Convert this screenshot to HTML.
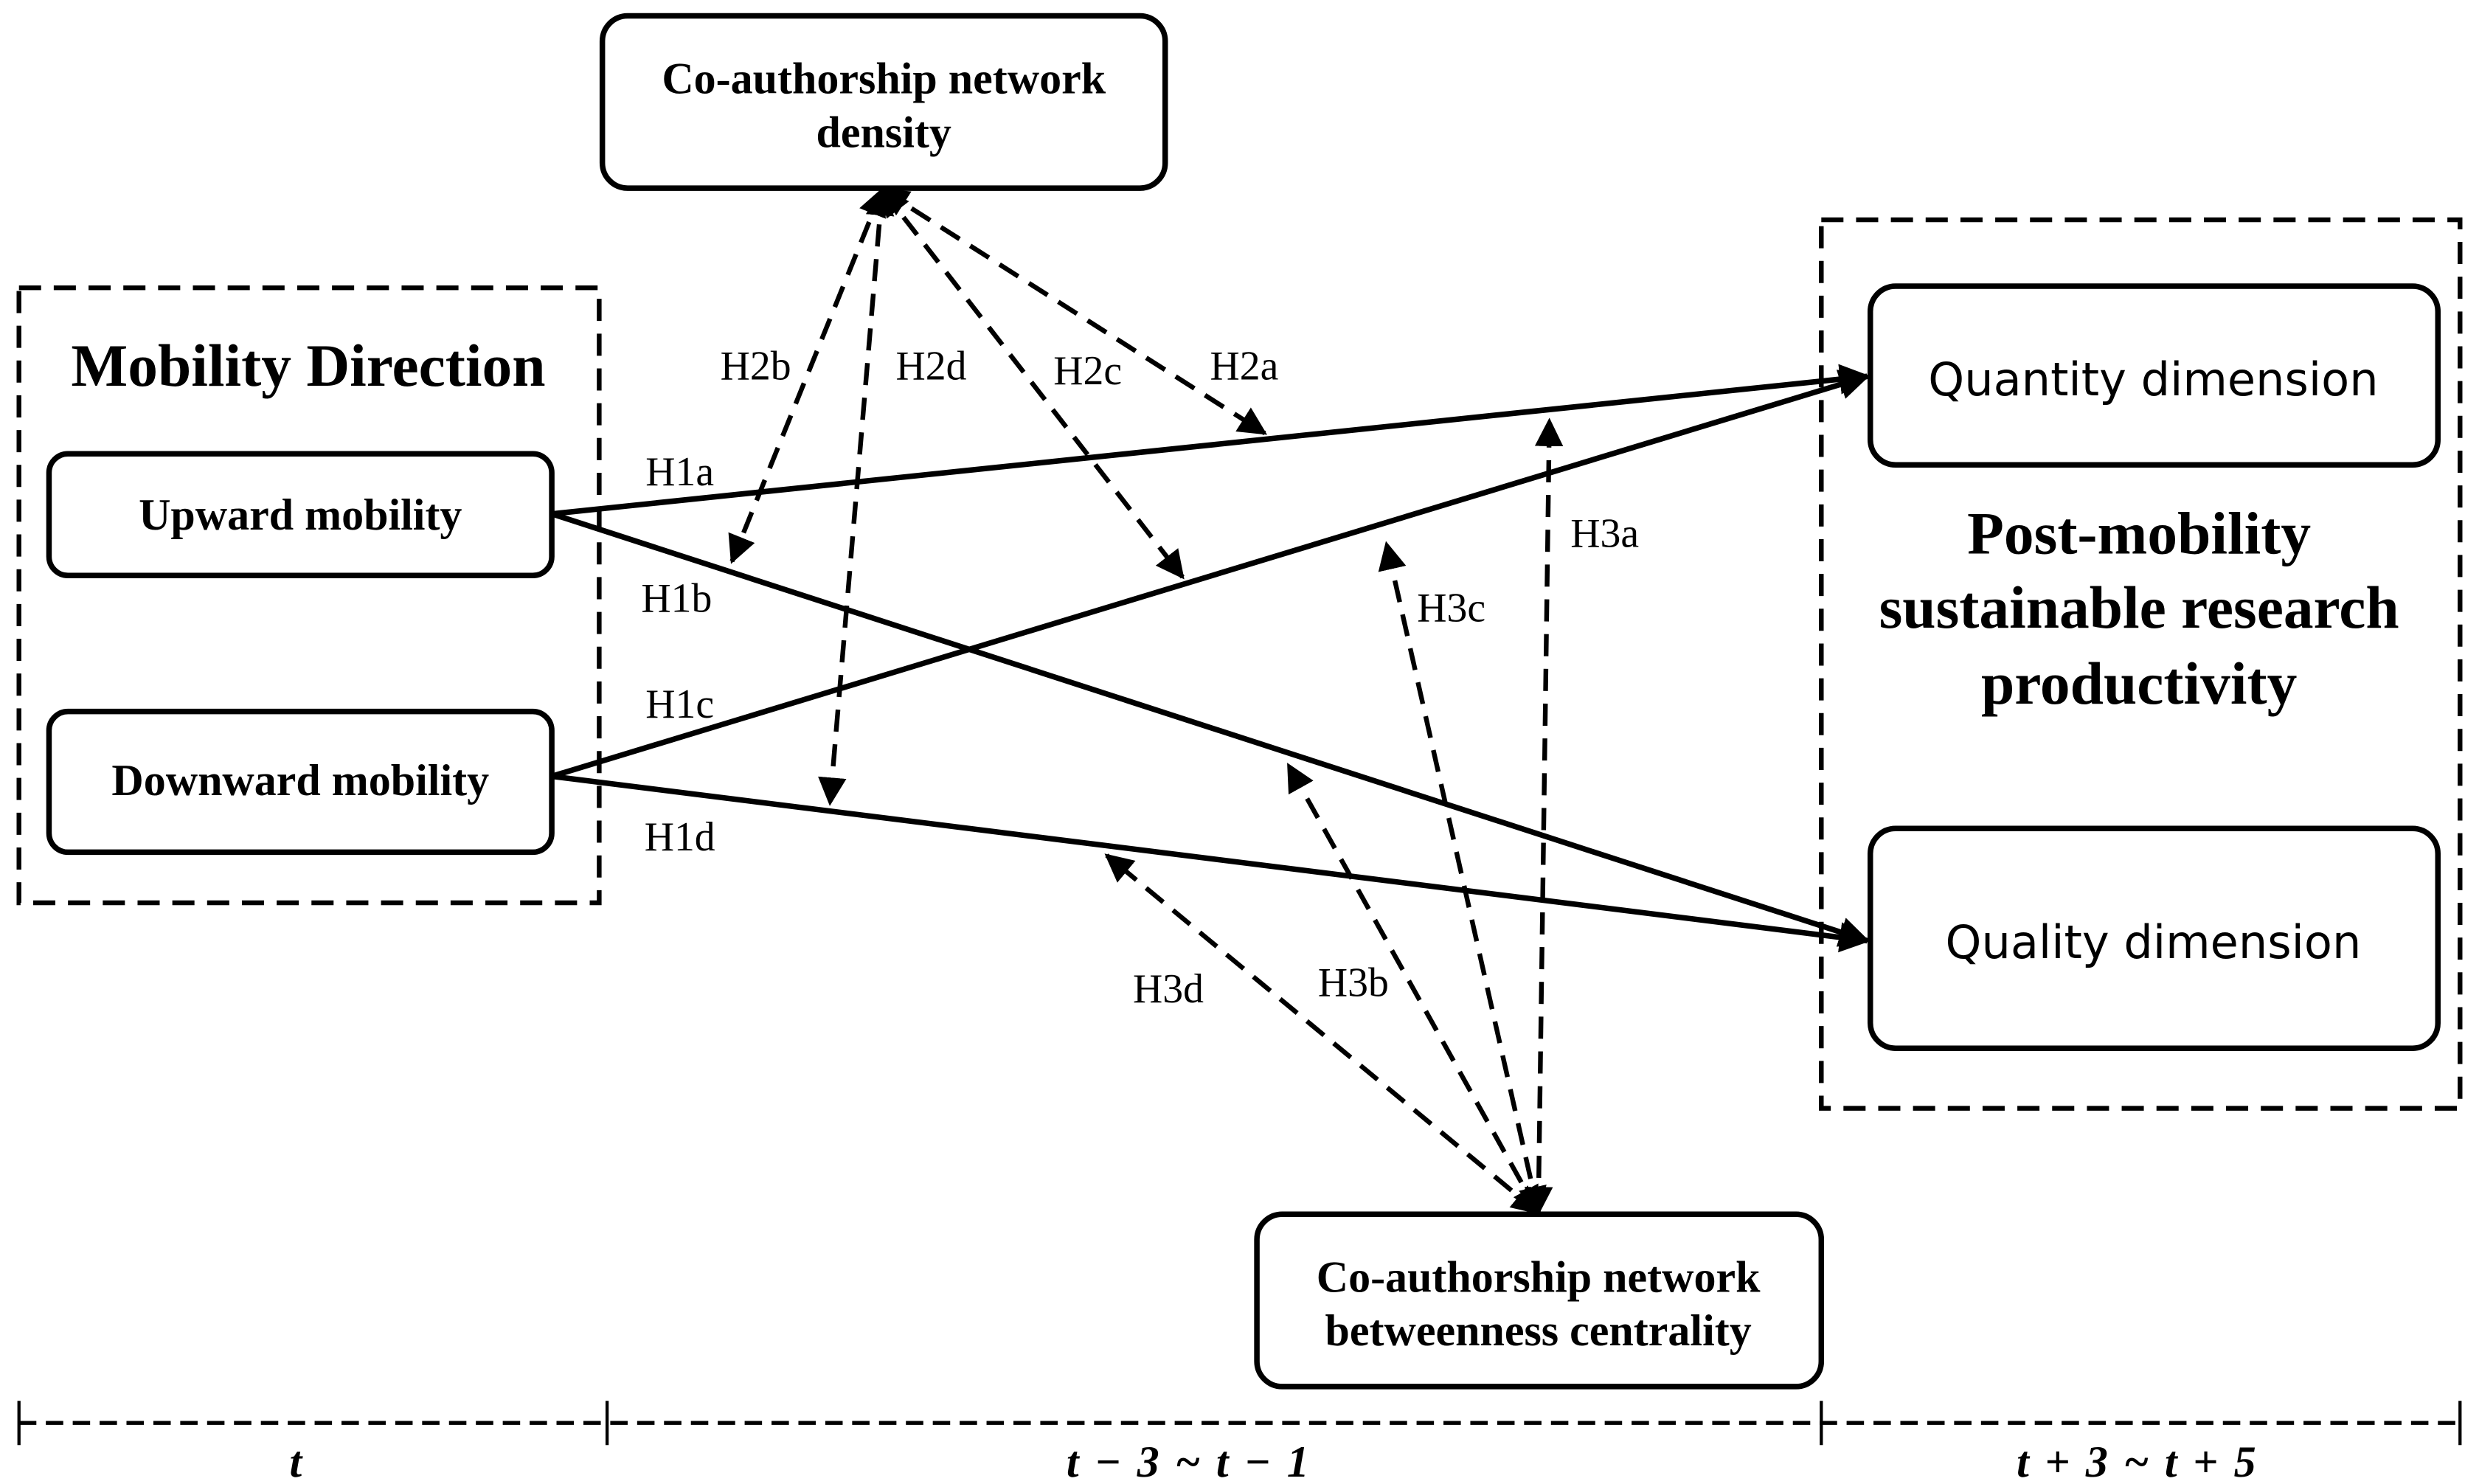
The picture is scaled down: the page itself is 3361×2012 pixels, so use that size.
<!DOCTYPE html>
<html><head><meta charset="utf-8"><style>
html,body{margin:0;padding:0;background:#fff;}
svg{display:block;}
.s{font-family:"Liberation Serif",serif;}
</style></head><body>
<svg width="3361" height="2012" viewBox="0 0 1568 938.6" xmlns="http://www.w3.org/2000/svg">
<defs>
<marker id="a" viewBox="0 0 10 10" refX="9" refY="5" markerWidth="6" markerHeight="6" orient="auto-start-reverse" markerUnits="strokeWidth"><path d="M0,0 L10,5 L0,10 z" fill="#000"/></marker>
<marker id="b" viewBox="0 0 10 10" refX="9" refY="5" markerWidth="5.5" markerHeight="5.5" orient="auto-start-reverse" markerUnits="strokeWidth"><path d="M0,0 L10,5 L0,10 z" fill="#000"/></marker>
</defs>
<g fill="none" stroke="#000" stroke-width="3.5">
<rect x="381" y="10" width="356" height="109" rx="16"/>
<rect x="12" y="182" width="367" height="389" stroke-dasharray="14,8" stroke-width="3"/>
<rect x="31" y="287" width="318" height="77" rx="12"/>
<rect x="31" y="450" width="318" height="89" rx="12"/>
<rect x="1152" y="139" width="404" height="562" stroke-dasharray="14,8" stroke-width="3"/>
<rect x="1183" y="181" width="359" height="113" rx="16"/>
<rect x="1183" y="524" width="359" height="139" rx="16"/>
<rect x="795" y="768" width="357" height="109" rx="16"/>
<line x1="12" y1="900" x2="1556" y2="900" stroke-dasharray="11,6" stroke-width="2.5"/>
<line x1="12" y1="886" x2="12" y2="914" stroke-width="2"/>
<line x1="384" y1="886" x2="384" y2="914" stroke-width="2"/>
<line x1="1152" y1="886" x2="1152" y2="914" stroke-width="2"/>
<line x1="1556" y1="886" x2="1556" y2="914" stroke-width="2"/>
<line x1="349" y1="325" x2="1181" y2="238" marker-end="url(#b)"/>
<line x1="349" y1="325" x2="1181" y2="595" marker-end="url(#b)"/>
<line x1="349" y1="491" x2="1181" y2="238" marker-end="url(#b)"/>
<line x1="349" y1="491" x2="1181" y2="595" marker-end="url(#b)"/>
<g stroke-dasharray="14,8" stroke-width="3">
<line x1="558" y1="120" x2="463" y2="355" marker-start="url(#a)" marker-end="url(#a)"/>
<line x1="558" y1="120" x2="525" y2="508" marker-start="url(#a)" marker-end="url(#a)"/>
<line x1="558" y1="120" x2="748" y2="365" marker-start="url(#a)" marker-end="url(#a)"/>
<line x1="558" y1="120" x2="800" y2="274" marker-start="url(#a)" marker-end="url(#a)"/>
<line x1="973" y1="767" x2="980" y2="266" marker-start="url(#a)" marker-end="url(#a)"/>
<line x1="973" y1="767" x2="877" y2="344" marker-start="url(#a)" marker-end="url(#a)"/>
<line x1="973" y1="767" x2="815" y2="484" marker-start="url(#a)" marker-end="url(#a)"/>
<line x1="973" y1="767" x2="700" y2="541" marker-start="url(#a)" marker-end="url(#a)"/>
</g>
</g>
<g class="s" font-weight="bold" text-anchor="middle" fill="#000">
<text x="559" y="59" font-size="28">Co-authorship network</text>
<text x="559" y="93" font-size="28">density</text>
<text x="195" y="244" font-size="38">Mobility Direction</text>
<text x="190" y="335" font-size="28">Upward mobility</text>
<text x="190" y="503" font-size="28">Downward mobility</text>
<text x="1353" y="350" font-size="38">Post-mobility</text>
<text x="1353" y="397" font-size="38">sustainable research</text>
<text x="1353" y="445" font-size="38">productivity</text>
<text x="973" y="817" font-size="28">Co-authorship network</text>
<text x="973" y="851" font-size="28">betweenness centrality</text>
<text x="187" y="934" font-size="28" font-style="italic">t</text>
<text x="752" y="934" font-size="28" font-style="italic" letter-spacing="1.5">t − 3 ~ t − 1</text>
<text x="1352" y="934" font-size="28" font-style="italic" letter-spacing="1.5">t + 3 ~ t + 5</text>
</g>
<g font-family="'DejaVu Sans','Liberation Sans',sans-serif" font-size="29" text-anchor="middle" fill="#000">
<text x="1362" y="250">Quantity dimension</text>
<text x="1362" y="606">Quality dimension</text>
</g>
<g class="s" font-size="26" text-anchor="middle" fill="#000">
<text x="430" y="307">H1a</text>
<text x="428" y="387">H1b</text>
<text x="430" y="454">H1c</text>
<text x="430" y="538">H1d</text>
<text x="478" y="240">H2b</text>
<text x="589" y="240">H2d</text>
<text x="688" y="243">H2c</text>
<text x="787" y="240">H2a</text>
<text x="1015" y="346">H3a</text>
<text x="918" y="393">H3c</text>
<text x="856" y="630">H3b</text>
<text x="739" y="634">H3d</text>
</g>
</svg>
</body></html>
